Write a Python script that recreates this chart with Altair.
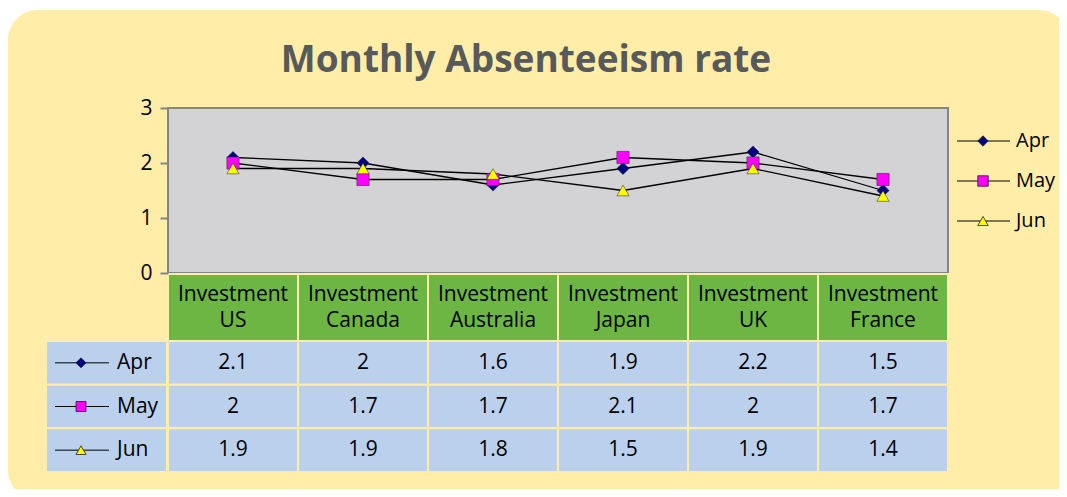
import altair as alt
import pandas as pd

# ---- data ----
countries = ["US", "Canada", "Australia", "Japan", "UK", "France"]
categories = ["Investment " + c for c in countries]
months = ["Apr", "May", "Jun"]
apr = [2.1, 2.0, 1.6, 1.9, 2.2, 1.5]
may = [2.0, 1.7, 1.7, 2.1, 2.0, 1.7]
jun = [1.9, 1.9, 1.8, 1.5, 1.9, 1.4]
y_ticks = [0, 1, 2, 3]
title_text = "Monthly Absenteeism rate"

series = {"Apr": apr, "May": may, "Jun": jun}
rows = []
for m in months:
    for cat, c, v in zip(categories, countries, series[m]):
        rows.append({"Category": cat, "Month": m, "Value": v, "Label": f"{v:g}"})
df = pd.DataFrame(rows)
hdr = pd.DataFrame({"Category": categories,
                    "Header": ["Investment\n" + c for c in countries]})
mon = pd.DataFrame({"Month": months})
one = pd.DataFrame({"k": [0]})

# ---- style ----
FONT = "Open Sans"
YELLOW = "#FFEDA8"
GREEN = "#6DB643"
BLUE = "#BBD0ED"
GRAY = "#D3D3D5"
BORDER = "#858585"
W, H = 780, 165
FS = 21

xs = alt.X("Category:N", sort=categories,
           scale=alt.Scale(type="band", domain=categories, paddingInner=0, paddingOuter=0),
           axis=None)
shape = alt.Shape("Month:N", scale=alt.Scale(domain=months, range=["diamond", "square", "triangle-up"]), legend=None)
fill = alt.Color("Month:N", scale=alt.Scale(domain=months, range=["#000080", "#FF00FF", "#FFFF00"]), legend=None)

def yval(axis=None):
    return alt.Y("Value:Q", scale=alt.Scale(domain=[0, 3]), axis=axis)

def yrow(rng):
    return alt.Y("Month:N", sort=months,
                 scale=alt.Scale(type="band", domain=months, range=rng, paddingInner=0, paddingOuter=0),
                 axis=None)

bg = alt.Chart(one).mark_rect(fill=YELLOW, cornerRadius=30).encode(
    x=alt.value(-160), x2=alt.value(901), y=alt.value(-98), y2=alt.value(392))

plotbg = alt.Chart(one).mark_rect(fill=GRAY, stroke=BORDER, strokeWidth=2).encode(
    x=alt.value(0), x2=alt.value(W), y=alt.value(0), y2=alt.value(H))

title = alt.Chart(one).mark_text(text=title_text, font=FONT, fontSize=37, fontWeight="bold",
                                 color="#58595B", align="center", baseline="alphabetic").encode(
    x=alt.value(358), y=alt.value(-36))

lines = alt.Chart(df).mark_line(color="black", strokeWidth=1.3).encode(
    x=xs,
    y=yval(alt.Axis(values=y_ticks, grid=False, domain=False, ticks=True, tickColor=BORDER,
                    tickWidth=2, tickSize=8, labelFontSize=FS, labelFont=FONT, labelColor="black",
                    labelPadding=8, title=None, zindex=1)),
    detail="Month:N")

points = alt.Chart(df).mark_point(filled=True, size=150, stroke="#222222", strokeWidth=0.5, opacity=1).encode(
    x=xs, y=yval(), shape=shape, color=fill)

header = alt.Chart(hdr).mark_rect(fill=GREEN, stroke=YELLOW, strokeWidth=2).encode(
    x=xs, y=alt.value(166), y2=alt.value(233))
header_txt = alt.Chart(hdr).mark_text(font=FONT, fontSize=FS, lineBreak="\n", lineHeight=26,
                                      baseline="middle", align="center", color="black").encode(
    x=xs, y=alt.value(187), text="Header:N")

ROWS = [233, 364]
cells = alt.Chart(df).mark_rect(fill=BLUE, stroke=YELLOW, strokeWidth=2).encode(
    x=xs, y=yrow(ROWS))
cell_txt = alt.Chart(df).mark_text(font=FONT, fontSize=FS, baseline="middle", align="center",
                                   color="black").encode(x=xs, y=yrow(ROWS), text="Label:N")

lab_cells = alt.Chart(mon).mark_rect(fill=BLUE, stroke=YELLOW, strokeWidth=2).encode(
    x=alt.value(-122), x2=alt.value(-1), y=yrow(ROWS))
lab_rule = alt.Chart(mon).mark_rule(color="black", strokeWidth=1).encode(
    x=alt.value(-113), x2=alt.value(-59), y=yrow(ROWS))
lab_pt = alt.Chart(mon).mark_point(filled=True, size=100, stroke="#222222", strokeWidth=0.8, opacity=1).encode(
    x=alt.value(-87), y=yrow(ROWS), shape=shape, color=fill)
lab_txt = alt.Chart(mon).mark_text(font=FONT, fontSize=FS, baseline="middle", align="left",
                                   color="black").encode(x=alt.value(-51), y=yrow(ROWS), text="Month:N")

LEG = [13, 133]
leg_rule = alt.Chart(mon).mark_rule(color="black", strokeWidth=1).encode(
    x=alt.value(789), x2=alt.value(842), y=yrow(LEG))
leg_pt = alt.Chart(mon).mark_point(filled=True, size=110, stroke="#222222", strokeWidth=0.8, opacity=1).encode(
    x=alt.value(815), y=yrow(LEG), shape=shape, color=fill)
leg_txt = alt.Chart(mon).mark_text(font=FONT, fontSize=20, baseline="middle", align="left",
                                   color="black").encode(x=alt.value(848), y=yrow(LEG), text="Month:N")

chart = alt.layer(
    bg, plotbg, title, lines, points, header, header_txt, cells, cell_txt,
    lab_cells, lab_rule, lab_pt, lab_txt, leg_rule, leg_pt, leg_txt
).resolve_scale(y="independent").properties(
    width=W, height=H,
    autosize=alt.AutoSizeParams(type="none"),
    padding={"left": 160, "top": 100, "right": 111, "bottom": 216},
    background="white",
).configure_view(stroke=None)

chart.save("out.html", embed_options={"renderer": "svg", "actions": False})
